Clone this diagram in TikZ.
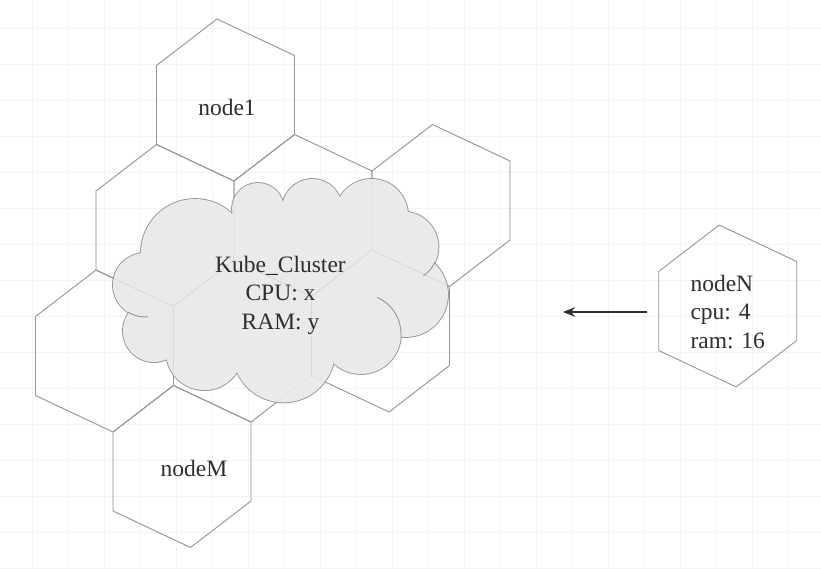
\documentclass[tikz,border=0pt]{standalone}
\usepackage{fontspec}
\setmainfont{Liberation Serif}
\usepackage{tikz}
\usetikzlibrary{arrows.meta, positioning, calc}
\definecolor{kgray}{HTML}{969696}
\definecolor{kfill}{HTML}{EAEAEA}
\definecolor{ktext}{HTML}{2E2E2E}
\definecolor{kgrid}{HTML}{F3F4F6}

% one honeycomb cell around a centre point
\newcommand{\hexcell}[2][]{%
  \draw[hexline,#1,shift={#2}] (-8.5,81) -- (69,44.5) -- (69,-34.5)
    -- (8.5,-81) -- (-69,-44.5) -- (-69,34.5) -- cycle;}

\begin{document}
\begin{tikzpicture}[
  x=1pt, y=1pt,
  hexline/.style={draw=kgray, line width=0.9pt, line join=round},
  faint/.style={draw opacity=0.1},
  hexa/.style={
    minimum width=139pt,
    inner sep=0pt,
    outer sep=0pt,
    text=ktext,
    font=\fontsize{23.5}{28.4}\selectfont
  },
  puffedge/.style={draw=kgray, line width=1.8pt},
  puffarc/.style={draw=kgray, line width=0.9pt},
  link/.style={
    -{Stealth[length=12pt,width=9.5pt]},
    ktext,
    line width=1.1pt,
    shorten <=11pt
  }
]
  \useasboundingbox (0,0) rectangle (821,568);
  \fill[white] (0,0) rectangle (821,568);
  \draw[kgrid, line width=0.6pt, xshift=32pt] (-32,0) grid[step=36pt] (789,568);

  % honeycomb of cluster members
  \foreach \hx/\hy in {225.5/468, 165/342.5, 303/352.5, 441/362.5,
                       104.5/217, 242.5/227, 380.5/237, 182/101.5}
    {\hexcell{(\hx,\hy)}}

  % cloud: outline of the puffs, then the filling
  \foreach \cx/\cy/\r in {145/283/32, 195/315/54, 258/359/26, 312.3/359/30,
                          371.5/352.4/36.6, 403/321/35.4, 405.6/273.4/42.4,
                          361/234/40, 283.7/216.8/51.2, 204.4/216.3/38.4, 154/237/31}
    {\draw[puffedge] (\cx,\cy) circle[radius=\r];}
  \foreach \cx/\cy/\r in {145/283/32, 195/315/54, 258/359/26, 312.3/359/30,
                          371.5/352.4/36.6, 403/321/35.4, 405.6/273.4/42.4,
                          361/234/40, 283.7/216.8/51.2, 204.4/216.3/38.4, 154/237/31}
    {\fill[kfill] (\cx,\cy) circle[radius=\r];}
  \fill[kfill] (280,278) ellipse[x radius=130, y radius=75];

  % cells seen through the cloud
  \foreach \hx/\hy in {225.5/468, 165/342.5, 303/352.5, 441/362.5,
                       104.5/217, 242.5/227, 380.5/237, 182/101.5}
    {\hexcell[faint]{(\hx,\hy)}}

  % inner strokes of the cloud
  \draw[puffarc] ([shift={(-5:40)}]361,234) arc[start angle=-5, end angle=66, radius=40];
  \draw[puffarc] ([shift={(238:32)}]145,283) arc[start angle=238, end angle=275, radius=32];
  \draw[puffarc] ([shift={(-25:35.4)}]403,321) arc[start angle=-25, end angle=-55, radius=35.4];

  \node[hexa] (node1) at (227,461) {node1};
  \node[hexa] (nodeM) at (194,100) {nodeM};
  \node[hexa, align=center] (cluster) at (280.5,272.7) {Kube\_Cluster\\CPU: x\\RAM: y};

  % new node joining
  \hexcell{(727.7,262)}
  \node[hexa, align=left] (nodeN) at (727.7,256) {nodeN\\cpu: 4\\ram: 16};
  \coordinate (joinpt) at (563,256);
  \draw[link] (nodeN.west |- joinpt) -- (joinpt);
\end{tikzpicture}
\end{document}
